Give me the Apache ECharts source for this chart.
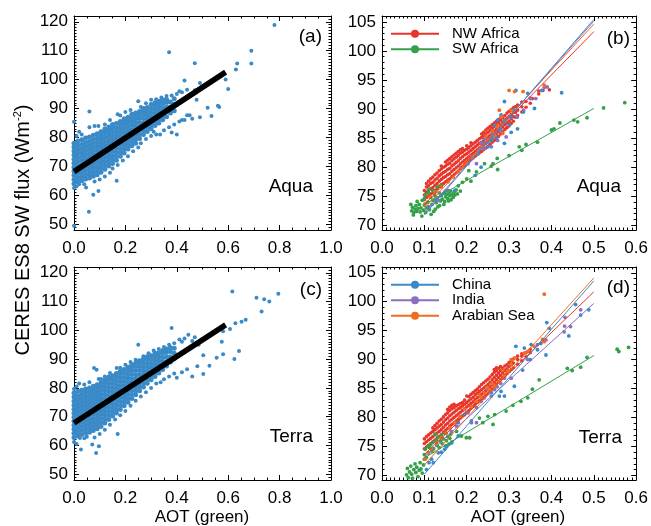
<!DOCTYPE html>
<html><head><meta charset="utf-8">
<script src="https://cdn.jsdelivr.net/npm/echarts@6/dist/echarts.min.js"></script>
<style>html,body{margin:0;padding:0;background:#fff}#c{width:651px;height:526px}</style>
</head><body><div id="c"></div>
<script>
// ---------- tick values ----------
const ticksXa = [0, 0.2, 0.4, 0.6, 0.8, 1.0];
const minorXa = [0.05,0.1,0.15,0.25,0.3,0.35,0.45,0.5,0.55,0.65,0.7,0.75,0.85,0.9,0.95];
const ticksYa = [50, 60, 70, 80, 90, 100, 110, 120];
const minorYa = [49,51,52,53,54,55,56,57,58,59,61,62,63,64,65,66,67,68,69,71,72,73,74,75,76,77,78,79,81,82,83,84,85,86,87,88,89,91,92,93,94,95,96,97,98,99,101,102,103,104,105,106,107,108,109,111,112,113,114,115,116,117,118,119,121];
const ticksXb = [0, 0.1, 0.2, 0.3, 0.4, 0.5, 0.6];
const minorXb = [0.01,0.02,0.03,0.04,0.05,0.06,0.07,0.08,0.09,0.11,0.12,0.13,0.14,0.15,0.16,0.17,0.18,0.19,0.21,0.22,0.23,0.24,0.25,0.26,0.27,0.28,0.29,0.31,0.32,0.33,0.34,0.35,0.36,0.37,0.38,0.39,0.41,0.42,0.43,0.44,0.45,0.46,0.47,0.48,0.49,0.51,0.52,0.53,0.54,0.55,0.56,0.57,0.58,0.59];
const ticksYb = [70, 75, 80, 85, 90, 95, 100, 105];
const minorYb = [71,72,73,74,76,77,78,79,81,82,83,84,86,87,88,89,91,92,93,94,96,97,98,99,101,102,103,104];

// ---------- panel (a) Aqua, all data : columns [x, [y...]] ----------
const aquaCore = [
 [0.000,[64,65.5,66.9,68.3,69.7,71.1,72.5,73.9,75.3,76.7,78]],
 [0.015,[64.7,66.1,67.5,68.9,70.3,71.7,73.1,74.5,75.9,77.3,78.8]],
 [0.030,[65,66.4,67.8,69.2,70.6,72,73.4,74.8,76.2,77.6,79.2]],
 [0.045,[65.6,67,68.5,69.9,71.3,72.7,74.1,75.5,76.9,78.3,79.8]],
 [0.060,[66,67.4,68.8,70.2,71.6,73,74.4,75.8,77.2,78.6,80.2]],
 [0.075,[66.6,68,69.5,70.9,72.3,73.7,75.1,76.5,77.9,79.3,80.8]],
 [0.090,[67.1,68.5,69.9,71.3,72.7,74.1,75.5,76.9,78.3,79.7,81.3]],
 [0.105,[68,69.4,70.8,72.2,73.6,75,76.4,77.8,79.2,80.6,82]],
 [0.120,[69,70.4,71.8,73.2,74.6,76,77.4,78.8,80.2,81.6,82.9]],
 [0.135,[70.1,71.5,72.9,74.3,75.7,77.1,78.5,79.9,81.3,82.7,83.6]],
 [0.150,[71,72.4,73.8,75.2,76.6,78,79.4,80.8,82.2,83.5,84.5]],
 [0.165,[72.1,73.5,74.9,76.3,77.7,79.1,80.5,81.9,83.3,84.8]],
 [0.180,[73.5,74.9,76.3,77.7,79.1,80.5,81.9,83.3,84.6,85.5]],
 [0.195,[74.6,76,77.4,78.8,80.2,81.6,83,84.4,85.6,86.5]],
 [0.210,[76,77.4,78.8,80.2,81.6,83,84.4,85.8,87]],
 [0.225,[77.1,78.5,79.9,81.3,82.7,84.1,85.5,86.8,88]],
 [0.240,[78,79.4,80.8,82.2,83.6,85,86.4,87.6,88.5]],
 [0.255,[79.6,81,82.4,83.8,85.2,86.6,87.9,89]],
 [0.270,[81,82.4,83.8,85.2,86.6,88,89,90]],
 [0.285,[82.1,83.5,84.9,86.3,87.7,89.1,90.4]],
 [0.300,[83,84.4,85.8,87.2,88.6,90,91.4]],
 [0.315,[84.1,85.5,86.9,88.3,89.7,91,92]],
 [0.330,[85,86.4,87.8,89.2,90.6,91.8,92.5]],
 [0.345,[86.1,87.5,88.9,90.3,91.7,93]],
 [0.360,[87.2,89,90.6,92.2,93.1]],
 [0.375,[88.5,90.5,92.3]],
 [0.390,[89.2,91.5,93.4]]
];
const aquaOuter = [
 [0.01,80.5],[0.02,82],[0.0,85.4],[0.03,81],[0.06,83.5],[0.08,84],[0.095,84],[0.06,89],[0.12,84.5],[0.14,86],[0.17,88],[0.18,87.6],
 [0.2,88.8],[0.22,89.5],[0.25,92.5],[0.26,90.5],[0.28,91.8],[0.3,93],[0.32,93.2],[0.34,93.8],[0.36,94.3],[0.38,94.5],[0.4,95],[0.41,96],
 [0.42,95.6],[0.43,99.7],[0.44,96.5],[0.45,94.8],[0.47,96.3],[0.49,98.8],[0.477,93],
 [0.0,62.5],[0.02,63.8],[0.01,63],[0.04,63.8],[0.047,62.7],[0.075,60.2],[0.095,61.5],[0.058,54.3],[0.0,49.5],[0.08,64.8],[0.1,65.5],
 [0.12,66.5],[0.14,67.8],[0.166,65],[0.15,69.3],[0.17,70.5],[0.19,72],[0.21,73.5],[0.23,75.2],[0.25,76.5],[0.26,78],[0.28,79.5],
 [0.3,80.5],[0.31,82],[0.32,81],[0.335,81],[0.35,82.5],[0.37,83.5],[0.38,81.7],[0.39,84.5],[0.4,81],[0.41,85.5],[0.42,86],[0.43,86],
 [0.44,87.7],[0.45,87.7],[0.46,86.5],[0.49,87],[0.52,90.3],[0.535,87.4],[0.56,91],[0.565,90.5],
 [0.37,109.5],[0.47,105.7],[0.59,100],[0.6,96.8],[0.63,103.5],[0.635,105.6],[0.69,105.6],[0.69,110],[0.78,118.9]
];
const aquaFit = [[0, 68.2], [0.59, 102.6]];

// ---------- panel (c) Terra, all data ----------
const terraCore = [
 [0.000,[62.8,64.2,65.6,67,68.4,69.8,71.2,72.6,74,75.4,76.8,78.2]],
 [0.015,[63.3,64.7,66.1,67.5,68.9,70.3,71.7,73.1,74.5,75.9,77.3,78.8]],
 [0.030,[63.8,65.2,66.6,68,69.4,70.8,72.2,73.6,75,76.4,77.8,79.2]],
 [0.045,[64.2,65.6,67,68.4,69.8,71.2,72.6,74,75.4,76.8,78.2,79.6]],
 [0.060,[64.6,66,67.4,68.8,70.2,71.6,73,74.4,75.8,77.2,78.6,80]],
 [0.075,[65.2,66.6,68,69.4,70.8,72.2,73.6,75,76.4,77.8,79.2,80.6]],
 [0.090,[65.8,67.2,68.6,70,71.4,72.8,74.2,75.6,77,78.4,79.8,81.1]],
 [0.105,[66.6,68,69.4,70.8,72.2,73.6,75,76.4,77.8,79.2,80.6,81.8]],
 [0.120,[67.8,69.2,70.6,72,73.4,74.8,76.2,77.6,79,80.4,81.8,82.8]],
 [0.135,[69,70.4,71.8,73.2,74.6,76,77.4,78.8,80.2,81.6,83,83.8]],
 [0.150,[70.2,71.6,73,74.4,75.8,77.2,78.6,80,81.4,82.8,84.2]],
 [0.165,[71.3,72.7,74.1,75.5,76.9,78.3,79.7,81.1,82.5,83.9,85]],
 [0.180,[72.5,73.9,75.3,76.7,78.1,79.5,80.9,82.3,83.7,85.1,85.8]],
 [0.195,[73.8,75.2,76.6,78,79.4,80.8,82.2,83.6,85,86.4]],
 [0.210,[75,76.4,77.8,79.2,80.6,82,83.4,84.8,86.2,87.2]],
 [0.225,[76.3,77.7,79.1,80.5,81.9,83.3,84.7,86.1,87.4,88]],
 [0.240,[77.6,79,80.4,81.8,83.2,84.6,86,87.4,88.6]],
 [0.255,[79,80.4,81.8,83.2,84.6,86,87.4,88.7,89.4]],
 [0.270,[80.3,81.7,83.1,84.5,85.9,87.3,88.7,90]],
 [0.285,[81.6,83,84.4,85.8,87.2,88.6,90,90.8]],
 [0.300,[82.8,84.2,85.6,87,88.4,89.8,91.2]],
 [0.315,[84,85.4,86.8,88.2,89.6,91,92]],
 [0.330,[85.2,86.6,88,89.4,90.8,92.2]],
 [0.345,[86.4,87.8,89.2,90.6,92,93]],
 [0.360,[87.6,89.2,90.8,92.4,93.5]],
 [0.375,[89,90.8,92.6,94]],
 [0.390,[90.2,92,93.8]]
];
const terraOuter = [
 [0.0,79.6],[0.01,80.5],[0.02,81.5],[0.04,81.2],[0.06,82],[0.078,86.9],[0.088,86.3],[0.096,83.1],[0.105,83.1],[0.12,84],[0.14,85.2],
 [0.166,86.9],[0.18,87],[0.2,88],[0.22,89],[0.25,95],[0.24,89.8],[0.27,91],[0.29,92],[0.31,93],[0.33,93.5],[0.35,94.2],[0.38,100.8],
 [0.37,95],[0.39,95.5],[0.41,96.8],[0.42,96],[0.43,97.2],[0.445,98.5],[0.47,97.6],[0.485,95],[0.46,96.3],
 [0.0,61.2],[0.01,60.5],[0.027,58.6],[0.023,62.6],[0.04,62.5],[0.05,63],[0.071,60.3],[0.086,57.4],[0.097,59.7],[0.08,62.8],[0.1,64],
 [0.12,65.5],[0.14,67.2],[0.17,64],[0.16,69],[0.18,70.5],[0.2,72],[0.22,73.8],[0.24,75.5],[0.26,77],[0.28,78.5],[0.3,80],[0.32,81.5],
 [0.337,82],[0.35,83],[0.37,84],[0.39,85],[0.4,83.5],[0.42,85.4],[0.44,86.5],[0.46,84],[0.48,87.5],[0.503,84.8],[0.527,87.7],
 [0.503,91.3],[0.555,90.5],[0.58,91.7],[0.624,90],[0.642,92.8],
 [0.575,96],[0.58,99.7],[0.607,100.5],[0.628,102.5],[0.652,103],[0.668,103.7],[0.616,113.5],[0.71,111.3],[0.74,110.8],[0.76,110],
 [0.73,106.5],[0.795,112.7]
];
const terraFit = [[0, 67.8], [0.59, 101.9]];

// ---------- panel (b) Aqua, regions ----------
const nwAfricaAquaCols = [
 [0.100,[74.4,75.2,76]],[0.105,[74.8,75.7,76.6,77.2]],[0.110,[75.1,76,76.8,77.6]],[0.115,[75.4,76.3,77.2,78]],
 [0.120,[75.6,76.5,77.4,78.3]],[0.125,[76,76.9,77.8,78.7]],[0.130,[76.3,77.2,78.1,79]],[0.135,[76.7,77.6,78.5,79.4]],
 [0.140,[77,77.9,78.8,79.7,80.2]],[0.145,[77.2,78.2,79.1,80]],[0.150,[77.5,78.4,79.3,80.2,80.9]],[0.155,[77.8,78.7,79.6,80.5,81.2]],
 [0.160,[78,78.9,79.8,80.7,81.5]],[0.165,[78.4,79.3,80.2,81.1,81.8]],[0.170,[78.7,79.6,80.5,81.4,82.1]],[0.175,[79,79.9,80.8,81.7,82.4]],
 [0.180,[79.3,80.2,81.1,82,82.7]],[0.185,[79.7,80.6,81.5,82.4,83]],[0.190,[80,80.9,81.8,82.6,83.2]],[0.195,[80.3,81.2,82.1,82.9]],
 [0.200,[80.7,81.5,82.3,83.1,83.7]],[0.205,[81,81.8,82.6,83.4]],[0.210,[81.3,82.1,82.9,83.7,84.2]],[0.215,[81.6,82.4,83.2,84]],
 [0.220,[81.9,82.7,83.5,84.3]],[0.225,[82.2,83,83.8,84.6]],[0.230,[82.5,83.3,84.1,84.9]],[0.235,[82.7,83.5,84.3,85.1,85.7]],
 [0.240,[83,83.8,84.6,85.4,86]],[0.245,[83.3,84.1,84.9,85.7,86.4]],[0.250,[83.6,84.4,85.2,86,86.7]],[0.255,[83.9,84.7,85.5,86.3,87]],
 [0.260,[84.3,85.1,85.9,86.7,87.3]],[0.265,[84.6,85.4,86.2,87,87.6]],[0.270,[84.9,85.7,86.5,87.3,87.9]],[0.275,[85.3,86.1,86.9,87.7,88.2]],
 [0.280,[85.7,86.5,87.3,88.1,88.5]],[0.285,[86.1,86.9,87.7,88.5]],[0.290,[86.5,87.3,88.1,88.9]],[0.295,[86.8,87.6,88.4,89.3]],
 [0.300,[87.1,87.9,88.7,89.6]],[0.305,[87.5,88.3,89.1,89.9]],[0.310,[87.9,88.7,89.5,90.2]],[0.315,[88.6,89.4,90.4]],
 [0.320,[88.9,89.8,90.7]],[0.330,[89.5,90.4,91.2]],[0.340,[90.3,91.3]],[0.350,[91,91.9]],[0.355,[91.8]],[0.370,[92.6,93.1]],
 [0.380,[93.2]],[0.395,[93.3]]
];
const swAfricaAqua = [
 [0.07,72.5],[0.072,73.1],[0.075,72.2],[0.078,72.8],[0.08,73.4],[0.082,72.4],[0.085,72.9],[0.088,73.6],[0.09,72.3],[0.092,73],
 [0.095,74.3],[0.098,72.6],[0.1,73.5],[0.1,74.6],[0.102,75.3],[0.105,73],[0.108,74],[0.11,75.6],[0.11,76.2],[0.112,72.7],
 [0.115,74.8],[0.118,73.6],[0.12,76],[0.12,74.3],[0.122,72.4],[0.125,75.1],[0.128,73.9],[0.13,76.6],[0.13,74.7],[0.132,73.2],
 [0.135,75.6],[0.138,74.2],[0.14,76.9],[0.14,75.1],[0.142,74.5],[0.145,75.5],[0.148,74.1],[0.15,75.9],[0.15,74.9],[0.152,75.3],
 [0.155,74.6],[0.158,75.6],[0.16,75.1],[0.162,75.9],[0.165,75.3],[0.168,74.8],[0.17,75.7],[0.172,75.2],[0.175,76.1],[0.18,76.8],
 [0.19,77.4],[0.2,78],[0.205,79.4],[0.21,77.6],[0.223,79.2],[0.242,80.6],[0.258,80.2],[0.273,79.6],[0.272,81.5],[0.262,80.6],
 [0.3,82],[0.324,83.5],[0.33,82.9],[0.34,83.9],[0.367,84.3],[0.4,86.4],[0.406,86.6],[0.42,87.6],[0.453,88.1],[0.462,87.8],
 [0.484,88.5],[0.523,90.2],[0.573,91.1],
 [0.068,73.6],[0.074,71.8],[0.083,74.1],[0.094,71.6],[0.103,72.2],[0.116,71.9],[0.126,72.8],[0.136,73.4],[0.146,73.6],[0.157,74.2],
 [0.163,74.4],[0.178,75.4],[0.185,75.9]
];
const chinaAqua = [
 [0.316,93.2],[0.289,91.3],[0.344,92.7],[0.36,90.1],[0.424,92.8],[0.377,93.2],[0.334,89.5],[0.305,88.6],[0.281,89],[0.289,88],
 [0.32,86.6],[0.305,86],[0.289,84.1],[0.27,85.2],[0.25,83.5],[0.227,82.3],[0.22,78.6],[0.234,80],[0.172,76],[0.125,74.3],
 [0.11,73.2],[0.14,75.2],[0.258,84.6],[0.273,88.1],[0.266,87.2],[0.24,84.2],[0.26,85.6],[0.28,86.4],[0.3,87.3],[0.31,89.8]
];
const indiaAqua = [
 [0.383,93.7],[0.39,93.8],[0.363,91.8],[0.35,91.8],[0.334,89.8],[0.319,88.6],[0.293,85.2],[0.273,84.6],[0.258,83.5],[0.242,84.9],
 [0.234,84.1],[0.227,82.9],[0.211,81.8],[0.203,80.6],[0.1875,80],[0.223,80.6],[0.156,76],[0.133,74.3],[0.24,83.2],[0.25,84.3],
 [0.262,85.1],[0.28,86.2]
];
const arabianAqua = [
 [0.30,93.2],[0.313,93],[0.277,89.8],[0.281,88.6],[0.273,87],[0.266,85.5],[0.25,84.6],[0.234,83.5],[0.223,82.3],[0.215,81.7],
 [0.195,80.6],[0.18,79.2],[0.168,78.3],[0.156,77.5],[0.14,76.6],[0.125,75.7],[0.113,74.9],[0.102,73.7],[0.305,89.8],[0.285,85.8],
 [0.383,94.1],[0.333,93],[0.26,86.2],[0.245,85.3],[0.2,81],[0.19,80]
];
// fitted lines [x0,y0],[x1,y1]
const fitNWAqua = [[0.1, 73.6], [0.5, 103.3]];
const fitSWAqua = [[0.1, 73.6], [0.5, 90.1]];
const fitChinaAqua = [[0.1, 71.8], [0.5, 105.4]];
const fitIndiaAqua = [[0.1, 72.1], [0.5, 105.1]];
const fitArabAqua = [[0.1, 72.9], [0.5, 104.6]];

// ---------- panel (d) Terra, regions ----------
const nwAfricaTerraCols = [
 [0.100,[74.6,75.5,76.3]],[0.105,[74.9,75.8,76.7]],[0.110,[75.2,76.1,77]],[0.115,[75.5,76.4,77.3]],[0.120,[75.8,76.7,77.6,78.2]],
 [0.125,[76.1,77,77.9,78.6]],[0.130,[76.4,77.3,78.2,79]],[0.135,[76.7,77.6,78.5,79.4]],[0.140,[77,77.9,78.8,79.7]],
 [0.145,[77.4,78.3,79.2,80.1]],[0.150,[77.8,78.7,79.6,80.5]],[0.155,[78.1,79,79.9,80.8,81.4]],[0.160,[78.5,79.4,80.3,81.2,81.8]],
 [0.165,[78.8,79.7,80.6,81.5,82.1]],[0.170,[79.1,80,80.9,81.7,82.3]],[0.175,[79.4,80.3,81.2,82]],[0.180,[79.7,80.6,81.5,82.2]],
 [0.185,[80,80.9,81.7,82.4]],[0.190,[80.3,81.2,82,82.6]],[0.195,[80.6,81.5,82.3,83]],[0.200,[80.9,81.8,82.6,83.7]],
 [0.205,[81.2,82.1,82.9,83.6]],[0.210,[81.6,82.4,83.2,84]],[0.215,[81.9,82.7,83.5,84.3]],[0.220,[82.3,83.1,83.9,84.6]],
 [0.225,[82.6,83.4,84.2,84.9]],[0.230,[82.9,83.7,84.5,85.3]],[0.235,[83.2,84,84.8,85.7]],[0.240,[83.5,84.3,85.1,86]],
 [0.245,[83.8,84.6,85.4,86.3]],[0.250,[84.1,84.9,85.7,86.6]],[0.255,[84.5,85.3,86.1,87]],[0.260,[84.9,85.7,86.5,87.4]],
 [0.265,[85.3,86.1,86.9,87.8,88.3]],[0.270,[85.7,86.5,87.3,88.1,88.6]],[0.275,[86.1,86.9,87.7,88.5]],[0.280,[86.5,87.3,88.1,88.8]],
 [0.285,[86.9,87.7,88.5]],[0.290,[87.3,88.1,88.9]],[0.295,[87.6,88.4,89.1]],[0.300,[88,88.8,89.5]],[0.305,[88.3,89.1,89.8]],
 [0.310,[88.6,89.4,90.1]],[0.320,[89.2,90,90.6]],[0.330,[89.8,90.6,91]],[0.340,[90.5,91.2]],[0.350,[91.2,91.8]]
];
const swAfricaTerra = [
 [0.058,70.1],[0.06,71.2],[0.062,69.6],[0.065,70.6],[0.068,71.6],[0.07,70.2],[0.072,69.5],[0.075,71],[0.078,72],[0.08,70.5],
 [0.082,71.4],[0.085,69.8],[0.088,70.9],[0.09,72.2],[0.092,71.1],[0.095,70.4],[0.098,71.8],[0.1,72.8],[0.1,73.6],[0.102,74.5],
 [0.105,73.1],[0.108,75],[0.11,73.9],[0.112,74.8],[0.115,75.3],[0.118,74.2],[0.12,75.7],[0.122,74.6],[0.125,77.1],[0.128,76],
 [0.13,75.2],[0.132,76.6],[0.135,74.8],[0.138,75.9],[0.14,76.9],[0.142,75.5],[0.145,76.3],[0.148,77.3],[0.15,75.1],[0.152,76],
 [0.155,76.7],[0.158,75.4],[0.16,76.4],[0.162,77.1],[0.165,75.8],[0.176,77.6],[0.1875,76.8],[0.199,76.5],[0.207,76.5],[0.23,79.9],
 [0.238,79.1],[0.25,80.2],[0.262,78.8],[0.266,80.5],[0.293,81.1],[0.309,82.1],[0.328,82.8],[0.344,83.4],[0.355,84.9],[0.371,86.5],
 [0.4375,88.5],[0.449,88.1],[0.469,88.7],[0.484,90.4],[0.555,91.8],[0.559,91.4],[0.582,92.1]
];
const chinaTerra = [
 [0.457,99.5],[0.488,98.6],[0.469,97.7],[0.441,94.1],[0.387,90.8],[0.395,95.4],[0.35,90],[0.332,88.2],[0.316,92.3],[0.3125,85.4],
 [0.281,84.5],[0.277,83.7],[0.289,83.7],[0.258,84.3],[0.223,81.7],[0.195,80.5],[0.18,79.1],[0.211,79.1],[0.148,74.5],[0.133,73.9],
 [0.117,72.8],[0.105,71],[0.111,72.2],[0.18,76.8],[0.164,75.6],[0.152,75],[0.14,74],[0.121,72.2],[0.336,92],[0.352,92.6],
 [0.367,91.7],[0.375,92.8],[0.389,96.4]
];
const indiaTerra = [
 [0.431,95.8],[0.43,94.8],[0.445,95.7],[0.469,98.6],[0.432,97.3],[0.387,93.4],[0.367,92.6],[0.344,90],[0.305,86.8],[0.289,86.8],
 [0.266,84.8],[0.258,83.7],[0.242,83.4],[0.234,82.8],[0.223,79.1],[0.211,79.4],[0.203,80.8],[0.176,78.5],[0.164,77.6],[0.25,84.8],
 [0.272,85.3],[0.28,85.9]
];
const arabianTerra = [
 [0.383,101.3],[0.336,91.1],[0.344,91.4],[0.359,92.3],[0.379,93.5],[0.383,93.1],[0.313,90.3],[0.305,89.1],[0.297,88],[0.289,87.1],
 [0.277,86.2],[0.266,85.4],[0.254,84.8],[0.242,84.2],[0.234,83.4],[0.223,82.8],[0.211,81.9],[0.195,81.4],[0.184,80.2],[0.172,79.1],
 [0.16,78.2],[0.152,77.3],[0.14,76.5],[0.129,75.6],[0.117,74.5],[0.109,73.9],[0.102,72.8],[0.305,90],[0.285,88.2],[0.26,85.9],
 [0.248,85.2],[0.23,83.9]
];
const fitNWTerra = [[0.1, 73.6], [0.5, 101.7]];
const fitSWTerra = [[0.1, 73.0], [0.5, 90.7]];
const fitChinaTerra = [[0.1, 70.2], [0.5, 103.6]];
const fitIndiaTerra = [[0.1, 73.2], [0.5, 99.7]];
const fitArabTerra = [[0.1, 71.8], [0.5, 104.1]];

// ---------- build ----------
const FONT = '"Liberation Sans", Arial, Helvetica, sans-serif';
const C = {blue:'#3a8ac8', red:'#e8352b', green:'#35a04a', purple:'#8c6fc2', orange:'#f26c1f'};
function fromCols(cols){ const out=[]; cols.forEach(c => c[1].forEach(y => out.push([c[0], y]))); return out; }

const grids = [
  {left:74, top:16, width:257, height:214},
  {left:382, top:16, width:257, height:214},
  {left:74, top:267, width:257, height:213},
  {left:382, top:267, width:257, height:213}
];
const xAxes = [], yAxes = [];
function axisSet(g, xr, yr, xMaj, xMin, yMaj, yMin){
  const xi = xAxes.length, yi = yAxes.length;
  const base = {gridIndex:g, type:'value', splitLine:{show:false}};
  const line = {show:true, onZero:false, lineStyle:{color:'#000', width:1}};
  const noLine = {show:false, onZero:false};
  const lbl = {fontSize:17, color:'#000', fontFamily:FONT};
  ['bottom','top'].forEach((p, k) => {
    xAxes.push(Object.assign({}, base, {position:p, min:xr[0], max:xr[1], axisLine:line,
      axisTick:{show:true, inside:true, length:5, customValues:xMaj, lineStyle:{color:'#000', width:1}},
      axisLabel: k === 0 ? Object.assign({show:true, customValues:xMaj, margin:10, formatter:v => v.toFixed(1)}, lbl) : {show:false}}));
    xAxes.push(Object.assign({}, base, {position:p, min:xr[0], max:xr[1], axisLine:noLine,
      axisTick:{show:true, inside:true, length:2.5, customValues:xMin, lineStyle:{color:'#000', width:1}},
      axisLabel:{show:false}}));
  });
  ['left','right'].forEach((p, k) => {
    yAxes.push(Object.assign({}, base, {position:p, min:yr[0], max:yr[1], axisLine:line,
      axisTick:{show:true, inside:true, length:5, customValues:yMaj, lineStyle:{color:'#000', width:1}},
      axisLabel: k === 0 ? Object.assign({show:true, customValues:yMaj, margin:6, formatter:v => String(Math.round(v))}, lbl) : {show:false}}));
    yAxes.push(Object.assign({}, base, {position:p, min:yr[0], max:yr[1], axisLine:noLine,
      axisTick:{show:true, inside:true, length:2.5, customValues:yMin, lineStyle:{color:'#000', width:1}},
      axisLabel:{show:false}}));
  });
  return [xi, yi];
}
const axA = axisSet(0, [0,1], [48,122], ticksXa, minorXa, ticksYa, minorYa);
const axB = axisSet(1, [0,0.6], [69.2,106], ticksXb, minorXb, ticksYb, minorYb);
const axC = axisSet(2, [0,1], [48,122], ticksXa, minorXa, ticksYa, minorYa);
const axD = axisSet(3, [0,0.6], [69.2,106], ticksXb, minorXb, ticksYb, minorYb);

const series = [];
function dots(ax, name, data, color, size){
  series.push({type:'scatter', name:name, xAxisIndex:ax[0], yAxisIndex:ax[1], data:data, symbol:'circle',
    symbolSize:size, itemStyle:{color:color, opacity:1}, silent:true, z:2});
}
function fit(ax, name, data, color, width){
  series.push({type:'line', name:name, xAxisIndex:ax[0], yAxisIndex:ax[1], data:data, symbol:'circle', symbolSize:7,
    showSymbol:false, lineStyle:{color:color, width:width}, itemStyle:{color:color}, silent:true, z:3});
}
// (a)
dots(axA, 'Aqua core', fromCols(aquaCore), C.blue, 5);
dots(axA, 'Aqua all', aquaOuter, C.blue, 4);
fit(axA, 'Aqua fit', aquaFit, '#000', 5.5);
// (c)
dots(axC, 'Terra core', fromCols(terraCore), C.blue, 5);
dots(axC, 'Terra all', terraOuter, C.blue, 4);
fit(axC, 'Terra fit', terraFit, '#000', 5.5);
// (b)
dots(axB, 'NW Africa pts', fromCols(nwAfricaAquaCols), C.red, 3.6);
dots(axB, 'SW Africa pts', swAfricaAqua, C.green, 3.8);
dots(axB, 'China pts', chinaAqua, C.blue, 3.8);
dots(axB, 'India pts', indiaAqua, C.purple, 3.8);
dots(axB, 'Arabian Sea pts', arabianAqua, C.orange, 3.8);
fit(axB, 'NW Africa', fitNWAqua, C.red, 1);
fit(axB, 'SW Africa', fitSWAqua, C.green, 1);
fit(axB, 'Arabian Sea', fitArabAqua, C.orange, 1);
fit(axB, 'India', fitIndiaAqua, C.purple, 1);
fit(axB, 'China', fitChinaAqua, C.blue, 1);
// (d)
dots(axD, 'NW Africa pts', fromCols(nwAfricaTerraCols), C.red, 3.6);
dots(axD, 'SW Africa pts', swAfricaTerra, C.green, 3.8);
dots(axD, 'China pts', chinaTerra, C.blue, 3.8);
dots(axD, 'India pts', indiaTerra, C.purple, 3.8);
dots(axD, 'Arabian Sea pts', arabianTerra, C.orange, 3.8);
fit(axD, 'NW Africa', fitNWTerra, C.red, 1);
fit(axD, 'SW Africa', fitSWTerra, C.green, 1);
fit(axD, 'Arabian Sea', fitArabTerra, C.orange, 1);
fit(axD, 'India', fitIndiaTerra, C.purple, 1);
fit(axD, 'China', fitChinaTerra, C.blue, 1);

const legendBase = {orient:'vertical', itemWidth:48, itemHeight:10, itemGap:0, padding:0, selectedMode:false,
  textStyle:{fontSize:15, color:'#000', fontFamily:FONT, lineHeight:15.5, padding:[0,0,0,8]}};
const legends = [
  Object.assign({}, legendBase, {left:390, top:26, data:['NW Africa','SW Africa']}),
  Object.assign({}, legendBase, {left:390, top:277, data:['China','India','Arabian Sea']})
];

function txt(x, y, s, size, align){
  return {type:'text', x:x, y:y, silent:true, style:{text:s, fontSize:size, fontFamily:FONT, fill:'#000',
    align:align || 'right', verticalAlign:'middle'}};
}
const graphics = [
  txt(322, 37, '(a)', 19), txt(313, 187, 'Aqua', 19),
  txt(630, 39, '(b)', 19), txt(621, 187, 'Aqua', 19),
  txt(322, 290, '(c)', 19), txt(313, 437, 'Terra', 19),
  txt(630, 288, '(d)', 19), txt(622, 438, 'Terra', 19),
  txt(202, 517, 'AOT (green)', 17, 'center'), txt(518, 517, 'AOT (green)', 17, 'center'),
  {type:'text', x:23, y:230, rotation:Math.PI/2, silent:true,
   style:{text:'CERES ES8 SW flux (Wm{sup|-2})', fontSize:20, fontFamily:FONT, fill:'#000', align:'center', verticalAlign:'middle',
     rich:{sup:{fontSize:11, fontFamily:FONT, fill:'#000', verticalAlign:'top', lineHeight:22}}}}
];

const chart = echarts.init(document.getElementById('c'), null, {renderer:'canvas'});
chart.setOption({
  animation:false, backgroundColor:'#fff',
  grid:grids, xAxis:xAxes, yAxis:yAxes, series:series, legend:legends, graphic:graphics
});
</script></body></html>
